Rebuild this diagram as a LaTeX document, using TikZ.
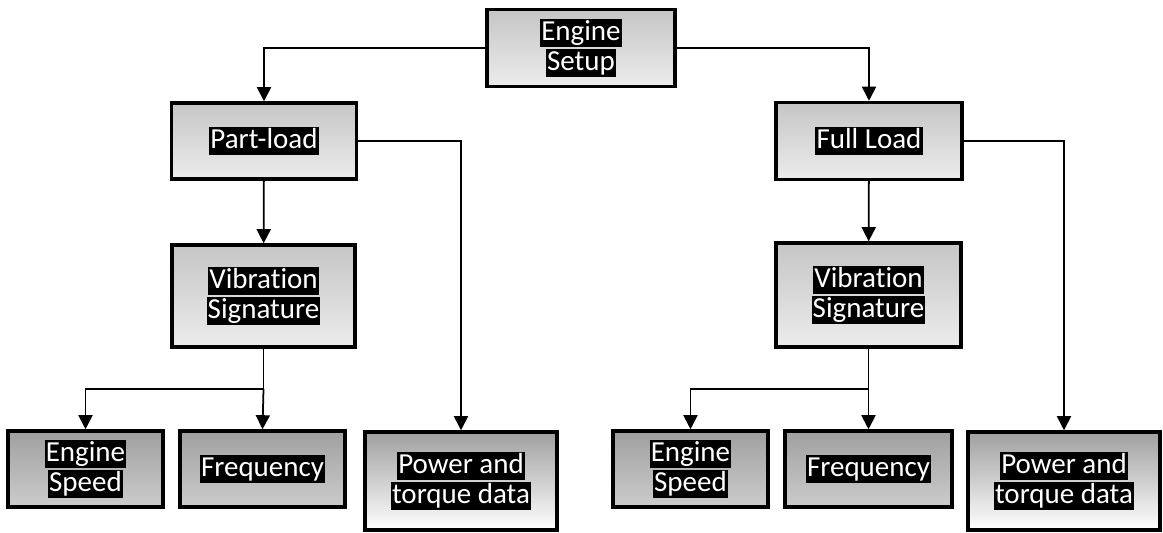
\documentclass[tikz,border=0pt]{standalone}
\usepackage{fontspec}
\setmainfont{Carlito}[Ligatures=NoCommon]
\usetikzlibrary{arrows.meta}

\newcommand{\hl}[1]{{\setlength{\fboxsep}{0.6pt}\colorbox{black}{\rule[-0.2em]{0pt}{0.9em}#1}}}

\tikzset{
  box/.style={draw, line width=2pt, align=center, text=white, inner sep=0pt,
    font=\fontsize{16.5}{17}\selectfont},
  upper/.style={box, top color=gray!45, bottom color=gray!15},
  lower/.style={box, top color=gray!75, bottom color=gray!40},
  fade/.style={box, top color=gray!75, bottom color=white},
  link/.style={line width=1pt, -{Triangle[length=8pt,width=8pt]}}
}

\begin{document}
\begin{tikzpicture}[x=0.02cm, y=-0.02cm]
\useasboundingbox (0,0) rectangle (1163,533);

\node[upper, minimum width=3.76cm, minimum height=1.54cm] (setup) at (581,48) {\hl{Engine}\\\hl{Setup}};

\node[upper, minimum width=3.7cm, minimum height=1.52cm] (part) at (264,141) {\hl{Part-load}};
\node[upper, minimum width=3.72cm, minimum height=1.54cm] (full) at (869,141) {\hl{Full Load}};

\node[upper, minimum width=3.66cm, minimum height=2.04cm] (vibL) at (263.5,296) {\hl{Vibration}\\\hl{Signature}};
\node[upper, minimum width=3.7cm, minimum height=2.08cm] (vibR) at (868.5,295) {\hl{Vibration}\\\hl{Signature}};

\node[lower, minimum width=3.1cm, minimum height=1.52cm] (speedL) at (85.5,469) {\hl{Engine}\\\hl{Speed}};
\node[lower, minimum width=3.3cm, minimum height=1.52cm] (freqL) at (262.5,469) {\hl{Frequency}};
\node[fade, minimum width=3.84cm, minimum height=1.96cm] (powerL) at (461,481) {\hl{Power and}\\\hl{torque data}};

\node[lower, minimum width=3.1cm, minimum height=1.52cm] (speedR) at (690.5,469) {\hl{Engine}\\\hl{Speed}};
\node[lower, minimum width=3.34cm, minimum height=1.52cm] (freqR) at (868.5,469) {\hl{Frequency}};
\node[fade, minimum width=3.84cm, minimum height=1.96cm] (powerR) at (1064,481) {\hl{Power and}\\\hl{torque data}};

\coordinate (splitL) at (263.5,389);
\coordinate (splitR) at (868.5,389);

\draw[link] (setup.west) -| (part.north);
\draw[link] (setup.east) -| (full.north);
\draw[link] (part) -- (vibL);
\draw[link] (full) -- (vibR);
\draw[link] (part.east) -| (powerL.north);
\draw[link] (full.east) -| (powerR.north);
\draw[line width=1pt] (vibL.south) -- (splitL);
\draw[line width=1pt] (vibR.south) -- (splitR);
\draw[link] (splitL) -| (speedL.north);
\draw[link] (splitL) -- (freqL.north);
\draw[link] (splitR) -| (speedR.north);
\draw[link] (splitR) -- (freqR.north);
\end{tikzpicture}
\end{document}
